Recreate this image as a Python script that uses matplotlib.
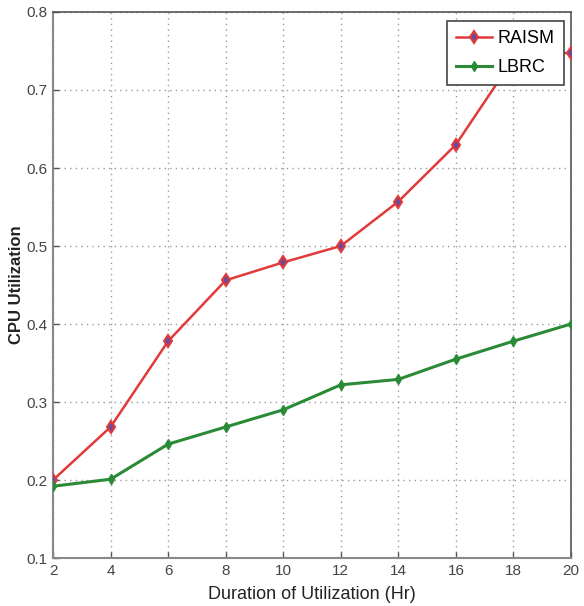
import matplotlib
matplotlib.use("Agg")
import matplotlib.pyplot as plt

hours = [2, 4, 6, 8, 10, 12, 14, 16, 18, 20]
raism = [0.200, 0.268, 0.378, 0.456, 0.479, 0.500, 0.557, 0.630, 0.740, 0.748]
lbrc = [0.192, 0.201, 0.246, 0.268, 0.290, 0.322, 0.329, 0.355, 0.378, 0.400]

x_ticks = list(range(2, 21, 2))
y_ticks = [0.1, 0.2, 0.3, 0.4, 0.5, 0.6, 0.7, 0.8]
y_labels = ["0.1", "0.2", "0.3", "0.4", "0.5", "0.6", "0.7", "0.8"]

sans = ["Liberation Sans", "DejaVu Sans"]

fig = plt.figure(figsize=(5.84, 6.06), dpi=100)
ax = fig.add_axes([0.0908, 0.0792, 0.8869, 0.9010])

ax.plot(hours, raism, color="#e23a3a", linewidth=1.8, marker="d",
        markersize=6, markerfacecolor="#6a4a9a", markeredgecolor="#e23a3a",
        markeredgewidth=1.5, label="RAISM", zorder=3)
ax.plot(hours, lbrc, color="#2a8a35", linewidth=2.2, marker="d",
        markersize=5, markerfacecolor="#2a8a35", markeredgecolor="#2a8a35",
        label="LBRC", zorder=3)

ax.set_xlim(2, 20)
ax.set_ylim(0.1, 0.8)
ax.set_xticks(x_ticks)
ax.set_yticks(y_ticks)
ax.set_yticklabels(y_labels)
ax.tick_params(direction="in", length=4, width=1, colors="#555555",
               labelsize=11, labelcolor="#444444", pad=4)
for lab in ax.get_xticklabels() + ax.get_yticklabels():
    lab.set_family(sans)
ax.grid(True, linestyle=(0, (1, 3)), color="#999999", linewidth=1)

for side in ("left", "bottom"):
    ax.spines[side].set_color("#888888")
    ax.spines[side].set_linewidth(1.5)
for side in ("top", "right"):
    ax.spines[side].set_color("#555555")
    ax.spines[side].set_linewidth(1.2)

ax.set_xlabel("Duration of Utilization (Hr)", fontsize=13, family=sans,
              color="#222222", labelpad=6)
ax.set_ylabel("CPU Utilization", fontsize=12, fontweight="bold",
              family=sans, color="#222222", labelpad=2)

leg = ax.legend(loc="upper right", bbox_to_anchor=(0.993, 0.99),
                prop={"family": sans, "size": 13}, handlelength=2.0,
                fancybox=False, framealpha=1, borderpad=0.5,
                labelspacing=0.65, handletextpad=0.3, borderaxespad=0.2)
leg.get_frame().set_edgecolor("#444444")
leg.get_frame().set_linewidth(1.2)

fig.savefig("out.png", dpi=100, facecolor="white")
